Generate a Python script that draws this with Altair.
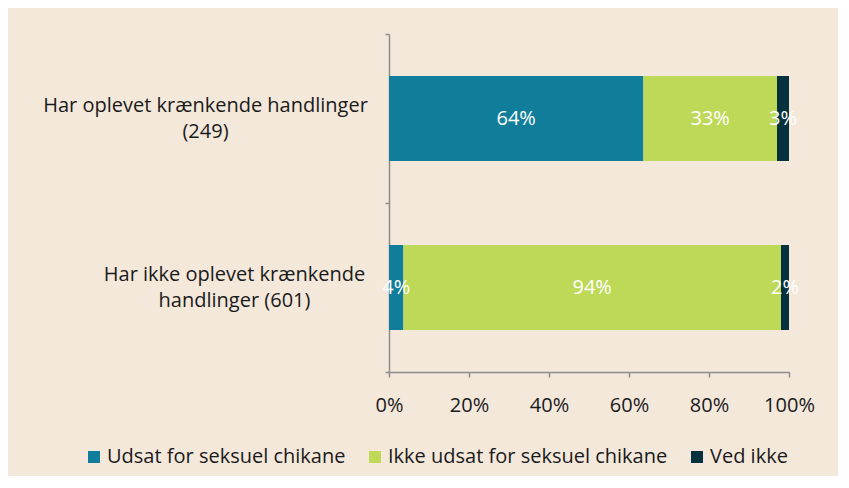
import altair as alt
import pandas as pd

# --- data ---
categories = ["Har oplevet krænkende handlinger|(249)",
              "Har ikke oplevet krænkende|handlinger (601)"]
series = ["Udsat for seksuel chikane", "Ikke udsat for seksuel chikane", "Ved ikke"]
udsat = [63.6, 3.6]
ikke_udsat = [33.4, 94.4]
ved_ikke = [3.0, 2.0]
colors = ["#107E9B", "#BED857", "#06313F"]
x_ticks = [0, 20, 40, 60, 80, 100]

rows = []
for i, cat in enumerate(categories):
    for j, (s, vals) in enumerate(zip(series, [udsat, ikke_udsat, ved_ikke])):
        rows.append({"group": cat, "series": s, "order": j, "value": vals[i]})
df = pd.DataFrame(rows)

FONT = "Open Sans"
TXT = "#1a1a1a"
AXC = "#8C8C8C"
FS = 20

base = alt.Chart(df).transform_stack(
    stack="value", groupby=["group"], as_=["x0", "x1"],
    sort=[alt.SortField("order", order="ascending")]
).transform_calculate(
    mid="(datum.x0 + datum.x1) / 2",
    label="round(datum.value) + '%'"
)

y_enc = alt.Y(
    "group:N", sort=categories,
    scale=alt.Scale(paddingInner=0, paddingOuter=0),
    axis=alt.Axis(
        title=None, tickBand="extent", tickSize=4, tickColor=AXC, tickWidth=1.5,
        domainColor=AXC, domainWidth=1.5,
        labelFont=FONT, labelFontSize=FS, labelColor=TXT, labelLineHeight=26,
        labelAlign="center", labelBaseline="middle", labelLimit=600,
        labelOffset=-13,
        labelPadding={"condition": {"test": "datum.value == '" + categories[1] + "'", "value": 151},
                      "value": 180},
        labelExpr="split(datum.label, '|')",
    ),
)

bars = base.mark_bar(size=85).encode(
    y=y_enc,
    x=alt.X("x0:Q", scale=alt.Scale(domain=[0, 100], nice=False),
            axis=alt.Axis(title=None, values=x_ticks, labelExpr="datum.value + '%'",
                          grid=False, domainColor=AXC, domainWidth=1.5,
                          tickColor=AXC, tickWidth=1.5, tickSize=5,
                          labelFlush=False,
                          labelFont=FONT, labelFontSize=FS, labelColor=TXT,
                          labelPadding=18)),
    x2="x1:Q",
    color=alt.Color("series:N", sort=series,
                    scale=alt.Scale(domain=series, range=colors),
                    legend=alt.Legend(title=None, orient="none", direction="horizontal",
                                      legendX=-305, legendY=413,
                                      symbolType="square", symbolSize=144,
                                      symbolStrokeWidth=0, labelOffset=3,
                                      columnPadding=19, labelFont=FONT,
                                      labelLimit=600,
                                      labelFontSize=FS, labelColor=TXT)),
)

texts = base.mark_text(color="white", font=FONT, fontSize=FS, baseline="middle").encode(
    y=alt.Y("group:N", sort=categories),
    x=alt.X("mid:Q"),
    text="label:N",
)

chart = alt.layer(bars, texts).properties(
    width=400, height=338,
    autosize=alt.AutoSizeParams(type="none"),
    padding={"left": 381, "top": 26, "right": 49, "bottom": 104},
    background="#F4E8DB",
).configure_view(stroke=None)

chart.save("out.html", embed_options={"renderer": "svg", "actions": False})
